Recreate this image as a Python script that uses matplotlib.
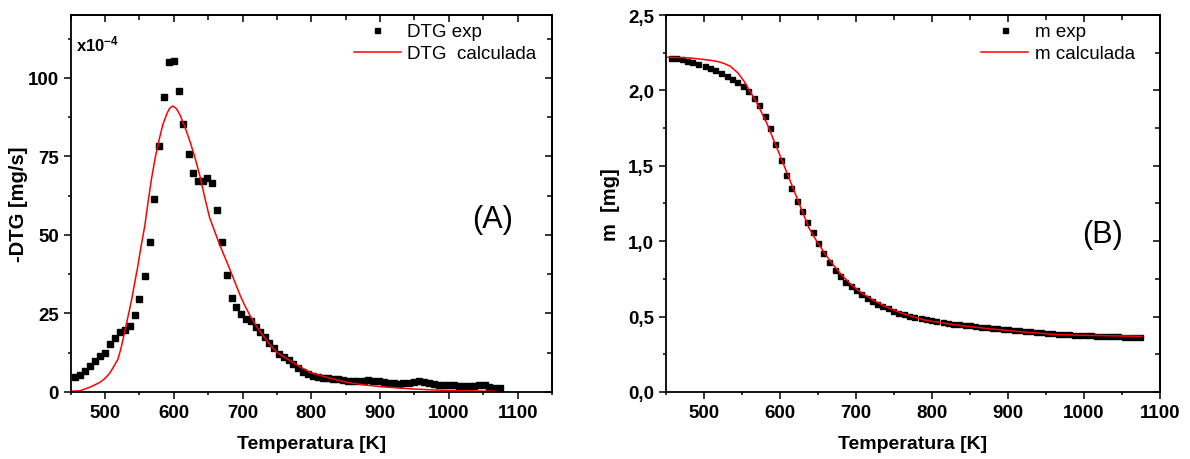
import numpy as np
import matplotlib
matplotlib.use("Agg")
import matplotlib.pyplot as plt
from matplotlib.ticker import MultipleLocator, FixedLocator, FixedFormatter

plt.rcParams["font.family"] = ["Liberation Sans", "DejaVu Sans"]
plt.rcParams["mathtext.fontset"] = "custom"
plt.rcParams["mathtext.rm"] = "Liberation Sans"
plt.rcParams["mathtext.bf"] = "Liberation Sans:bold"

# DTG experimental points (temperature in K, -DTG in 1e-4 mg/s)
dtg_exp_T = [456, 464, 471, 478, 486, 493, 500, 507, 515, 522, 529, 536, 544, 550,
             558, 565, 572, 579, 586, 593, 600, 608, 614, 622, 628, 635, 642, 649,
             656, 663, 670, 677, 684, 691, 698, 705, 712, 719, 725, 733, 739, 746,
             753, 760, 767, 774, 781, 788, 795, 802, 810, 817, 824, 832, 839, 846,
             854, 861, 868, 876, 883, 890, 898, 905, 912, 920, 927, 934, 942, 949,
             956, 964, 971, 978, 986, 993, 1000, 1008, 1015, 1022, 1030, 1037, 1044,
             1052, 1059, 1066, 1074]
dtg_exp = [4.8, 5.5, 6.7, 8.2, 9.8, 11.3, 12.3, 15.3, 17.1, 19.0, 19.8, 21.1, 24.5, 29.5,
           36.9, 47.9, 61.4, 78.3, 93.9, 104.9, 105.3, 95.7, 85.2, 75.8, 69.7, 67.1, 67.1, 68.1,
           66.4, 57.9, 47.9, 37.2, 29.9, 26.9, 24.7, 23.3, 22.5, 20.8, 19.2, 17.5, 15.6, 14.0,
           12.2, 11.2, 10.1, 8.8, 7.7, 6.5, 5.6, 5.0, 4.7, 4.6, 4.4, 4.2, 4.0, 3.7,
           3.5, 3.4, 3.5, 3.6, 3.7, 3.6, 3.5, 3.2, 2.9, 2.7, 2.6, 2.7, 2.9, 3.2,
           3.4, 3.1, 2.8, 2.5, 2.3, 2.2, 2.1, 2.1, 2.0, 2.0, 2.0, 2.0, 2.1,
           2.2, 1.5, 1.3, 1.2]

# DTG calculated curve
dtg_calc_T = [450, 464, 478, 493, 500, 507, 512, 519, 524, 529, 534, 539, 543, 547, 553,
              558, 563, 568, 573, 579, 584, 590, 594, 598, 602, 605, 609, 616, 624, 631,
              638, 645, 652, 666, 682, 697, 704, 711, 720, 730, 740, 750, 760, 769, 783,
              798, 812, 827, 851, 875, 900, 925, 948, 972, 997, 1030, 1071]
dtg_calc = [0.2, 0.4, 1.5, 3.1, 4.3, 6.0, 7.8, 10.5, 14.5, 19.5, 24.5, 29.6, 34.5, 39.1, 47.0,
            53.0, 61.0, 68.3, 74.5, 80.5, 85.0, 88.6, 90.3, 91.0, 90.6, 89.8, 88.2, 84.5, 79.5, 74.5,
            68.8, 62.0, 55.6, 47.3, 38.8, 30.5, 27.2, 24.3, 21.0, 17.9, 15.0, 12.6, 11.2, 10.0, 8.1,
            6.3, 5.3, 4.4, 3.1, 2.3, 1.7, 1.3, 0.95, 0.7, 0.5, 0.35, 0.2]

# mass experimental points (mg)
m_exp_T = [457, 464, 471, 478, 485, 493, 501, 508, 515, 522, 530, 537, 544, 551, 558, 566,
           573, 580, 587, 594, 601, 608, 615, 622, 629, 636, 643, 650, 657, 664, 672, 679,
           686, 693, 700, 707, 714, 721, 728, 735, 742, 749, 756, 763, 770, 777, 785, 792,
           799, 806, 814, 821, 828, 835, 843, 850, 857, 864, 872, 879, 886, 893, 900, 908,
           915, 922, 929, 937, 944, 951, 958, 966, 973, 980, 987, 995, 1002, 1009, 1016, 1024,
           1031, 1038, 1045, 1053, 1060, 1067, 1074]
m_exp = [2.217, 2.213, 2.206, 2.197, 2.186, 2.175, 2.162, 2.149, 2.133, 2.115, 2.098, 2.076,
         2.054, 2.027, 1.994, 1.950, 1.903, 1.832, 1.749, 1.645, 1.540, 1.439, 1.351, 1.269,
         1.198, 1.129, 1.059, 0.988, 0.922, 0.864, 0.811, 0.767, 0.731, 0.701, 0.674, 0.648,
         0.623, 0.603, 0.586, 0.568, 0.555, 0.539, 0.526, 0.515, 0.505, 0.497, 0.489, 0.482,
         0.476, 0.470, 0.464, 0.459, 0.454, 0.449, 0.445, 0.441, 0.437, 0.433, 0.430, 0.426,
         0.422, 0.419, 0.415, 0.412, 0.408, 0.405, 0.402, 0.399, 0.396, 0.393, 0.390, 0.387,
         0.385, 0.383, 0.381, 0.379, 0.377, 0.375, 0.373, 0.372, 0.371, 0.370, 0.369, 0.367,
         0.366, 0.365, 0.363]

# mass calculated curve
m_calc_T = [450, 480, 495, 507, 517, 526, 535, 545, 553, 560, 570, 583, 596, 610, 623, 638,
            649, 660, 671, 682, 693, 704, 715, 726, 737, 759, 790, 830, 878, 920, 966,
            1020, 1076]
m_calc = [2.220, 2.216, 2.208, 2.201, 2.193, 2.180, 2.160, 2.115, 2.060, 2.000, 1.915, 1.780,
          1.620, 1.446, 1.280, 1.090, 0.995, 0.912, 0.838, 0.772, 0.716, 0.670, 0.634, 0.600,
          0.572, 0.524, 0.477, 0.445, 0.418, 0.398, 0.380, 0.374, 0.369]

dtg_yticks = [0, 25, 50, 75, 100]
m_yticks = [0.0, 0.5, 1.0, 1.5, 2.0, 2.5]
m_yticklabels = ["0,0", "0,5", "1,0", "1,5", "2,0", "2,5"]


def style_axes(ax, xmax, ymax, y_major, y_minor):
    """
    This function sets limits, ticks and spines in an Origin-like way
    """
    ax.set_xlim(450, xmax)
    ax.set_ylim(0, ymax)
    ax.xaxis.set_major_locator(MultipleLocator(100))
    ax.xaxis.set_minor_locator(MultipleLocator(50))
    ax.yaxis.set_major_locator(MultipleLocator(y_major))
    ax.yaxis.set_minor_locator(MultipleLocator(y_minor))
    ax.tick_params(which="both", direction="out", width=1.1, labelsize=13.5)
    ax.tick_params(which="major", length=5)
    ax.tick_params(which="minor", length=2.5)
    for lab in ax.get_xticklabels() + ax.get_yticklabels():
        lab.set_fontweight("bold")
    for sp in ax.spines.values():
        sp.set_linewidth(1.3)

    # mirrored ticks on top and right pointing into the plot
    top = ax.secondary_xaxis("top")
    top.xaxis.set_major_locator(MultipleLocator(100))
    top.xaxis.set_minor_locator(MultipleLocator(50))
    top.tick_params(which="both", direction="in", width=1.1, labeltop=False)
    top.tick_params(which="major", length=5)
    top.tick_params(which="minor", length=3.5)
    top.spines["top"].set_linewidth(1.3)

    right = ax.secondary_yaxis("right")
    right.yaxis.set_major_locator(MultipleLocator(y_major))
    right.yaxis.set_minor_locator(MultipleLocator(y_minor))
    right.tick_params(which="both", direction="in", width=1.1, labelright=False)
    right.tick_params(which="major", length=5)
    right.tick_params(which="minor", length=3.5)
    right.spines["right"].set_linewidth(1.3)


def plot_dtg(ax):
    """
    This function plots the experimental and calculated DTG curves
    """
    ax.plot(dtg_exp_T, dtg_exp, "s", color="black", markersize=4.5, label="DTG exp")
    ax.plot(dtg_calc_T, dtg_calc, "-", color="red", linewidth=1.1, label="DTG  calculada")
    style_axes(ax, 1150, 120, 25, 12.5)
    ax.set_xlabel("Temperatura [K]", fontsize=14, fontweight="bold", labelpad=10)
    ax.set_ylabel("-DTG [mg/s]", fontsize=14.5, fontweight="bold", labelpad=0)
    ax.text(0.012, 0.925, r"$\mathbf{x10^{-4}}$", transform=ax.transAxes,
            fontsize=12, va="center", ha="left")
    ax.text(1064, 55, "(A)", fontsize=22, ha="center", va="center")
    ax.legend(loc="upper left", bbox_to_anchor=(0.588, 0.978), frameon=False,
              fontsize=13.5, numpoints=1, handlelength=2.5, handletextpad=0.35,
              labelspacing=0.25, borderpad=0, borderaxespad=0, markerscale=0.8)


def plot_mass(ax):
    """
    This function plots the experimental and calculated mass curves
    """
    ax.plot(m_exp_T, m_exp, "s", color="black", markersize=3.6, label="m exp")
    ax.plot(m_calc_T, m_calc, "-", color="red", linewidth=1.1, label="m calculada")
    style_axes(ax, 1100, 2.5, 0.5, 0.25)
    ax.yaxis.set_major_locator(FixedLocator(m_yticks))
    ax.yaxis.set_major_formatter(FixedFormatter(m_yticklabels))
    for lab in ax.get_yticklabels():
        lab.set_fontweight("bold")
    ax.set_xlabel("Temperatura [K]", fontsize=14, fontweight="bold", labelpad=10)
    ax.set_ylabel("m  [mg]", fontsize=14.5, fontweight="bold", labelpad=6)
    ax.text(1025, 1.05, "(B)", fontsize=22, ha="center", va="center")
    ax.legend(loc="upper left", bbox_to_anchor=(0.638, 0.978), frameon=False,
              fontsize=13.5, numpoints=1, handlelength=2.5, handletextpad=0.35,
              labelspacing=0.25, borderpad=0, borderaxespad=0)


fig = plt.figure(figsize=(11.9, 4.6), dpi=100)
ax1 = fig.add_axes([0.0593, 0.1457, 0.4046, 0.8195])
ax2 = fig.add_axes([0.5595, 0.1457, 0.4153, 0.8195])

plot_dtg(ax1)
plot_mass(ax2)

fig.savefig("out.png", dpi=100)
